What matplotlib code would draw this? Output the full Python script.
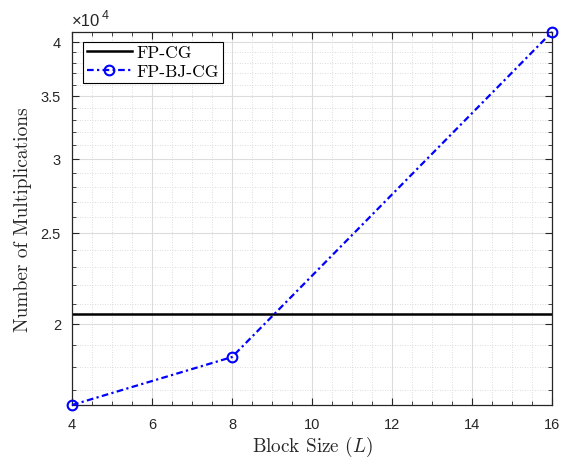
import matplotlib
matplotlib.use("Agg")
import matplotlib.pyplot as plt
from matplotlib.ticker import FixedLocator, FuncFormatter, MultipleLocator

block_sizes = [4, 8, 16]
fp_cg = [20480, 20480, 20480]
fp_bj_cg = [16384, 18432, 40960]

y_major = [20000, 25000, 30000, 35000, 40000]
y_minor = [v * 1000 for v in range(16, 42)]

plt.rcParams['mathtext.fontset'] = 'cm'
plt.rcParams['font.family'] = ['Liberation Sans', 'DejaVu Sans']
serif = 'cmr10'
ax_col = '#262626'

fig = plt.figure(figsize=(5.67, 4.6), dpi=100)
ax = fig.add_axes([0.127, 0.1174, 0.8465, 0.8109])

ax.plot([4, 16], [fp_cg[0], fp_cg[-1]], color='black', lw=1.8, label='FP-CG')
ax.plot(block_sizes, fp_bj_cg, color='blue', lw=1.6,
        linestyle=(0, (3, 1.5, 1, 1.5)), marker='o', markersize=7,
        markerfacecolor='none', markeredgewidth=1.5, label='FP-BJ-CG',
        clip_on=False, zorder=5)

ax.set_yscale('log')
ax.set_xlim(4, 16)
ax.set_ylim(min(fp_bj_cg), max(fp_bj_cg))
ax.xaxis.set_major_locator(MultipleLocator(2))
ax.xaxis.set_minor_locator(MultipleLocator(0.5))
ax.yaxis.set_major_locator(FixedLocator(y_major))
ax.yaxis.set_minor_locator(FixedLocator(y_minor))
ax.yaxis.set_major_formatter(FuncFormatter(lambda v, p: '%g' % (v / 1e4)))
ax.yaxis.set_minor_formatter(FuncFormatter(lambda v, p: ''))

ax.grid(True, which='major', color='#dcdcdc', lw=0.8, ls='-')
ax.grid(True, which='minor', color='#d0d0d0', lw=0.6, ls=(0, (1, 2)))
ax.set_axisbelow(True)

for s in ax.spines.values():
    s.set_color(ax_col)
    s.set_linewidth(0.9)
ax.tick_params(which='both', direction='in', top=True, right=True,
               colors=ax_col, labelsize=10.5)
ax.tick_params(which='major', length=5)
ax.tick_params(which='minor', length=3)
ax.tick_params(axis='x', pad=9)
ax.tick_params(axis='y', pad=8)

ax.set_xlabel('Block Size ($L$)', fontfamily=serif, fontsize=13.8,
              color=ax_col, labelpad=2)
ax.set_ylabel('Number of Multiplications', fontfamily=serif, fontsize=14,
              color=ax_col, labelpad=6)

ax.text(0.0, 1.012, '\u00d710', transform=ax.transAxes, fontsize=12,
        color=ax_col, va='bottom', ha='left')
ax.text(0.062, 1.03, '4', transform=ax.transAxes, fontsize=9,
        color=ax_col, va='bottom', ha='left')

leg = ax.legend(loc='upper left', bbox_to_anchor=(0.023, 0.974), fancybox=False,
                edgecolor='black', framealpha=1, handlelength=2.6,
                prop={'family': serif, 'size': 12.5}, borderpad=0.2,
                labelspacing=0.2, handletextpad=0.3, borderaxespad=0)
leg.get_frame().set_linewidth(0.8)

fig.savefig('out.png', dpi=100)
